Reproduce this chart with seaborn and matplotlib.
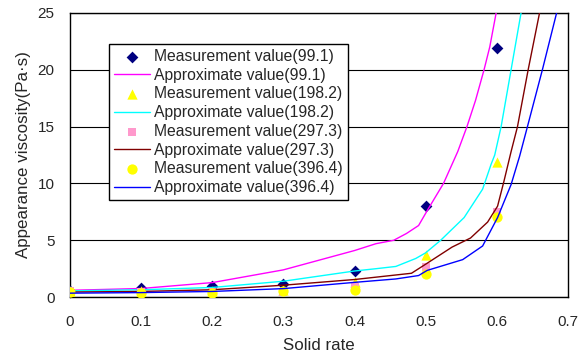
import pandas as pd
import seaborn as sns
import matplotlib.pyplot as plt

# measured points
solid = [0, 0.1, 0.2, 0.3, 0.4, 0.5, 0.6]
meas_991 = [0.5, 0.8, 0.95, 1.15, 2.3, 8.0, 21.9]
meas_1982 = [0.5, 0.5, 0.5, 0.6, 1.3, 3.7, 11.9]
meas_2973 = [0.5, 0.45, 0.45, 0.45, 0.85, 2.65, 7.5]
meas_3964 = [0.46, 0.4, 0.4, 0.5, 0.67, 2.07, 7.07]

# approximate curves
x_991 = [0, 0.1, 0.2, 0.3, 0.4, 0.43, 0.455, 0.473, 0.49, 0.502, 0.525, 0.545, 0.558, 0.57, 0.582, 0.59, 0.599]
y_991 = [0.6, 0.76, 1.28, 2.4, 4.1, 4.7, 5.0, 5.6, 6.3, 7.6, 10.0, 12.8, 15.0, 17.3, 20.0, 22.0, 25.0]
x_1982 = [0, 0.1, 0.2, 0.3, 0.4, 0.43, 0.458, 0.486, 0.5, 0.521, 0.554, 0.58, 0.592, 0.597, 0.606, 0.62, 0.634]
y_1982 = [0.55, 0.65, 0.85, 1.4, 2.3, 2.5, 2.7, 3.4, 3.9, 5.0, 7.0, 9.5, 11.7, 12.5, 15.0, 20.0, 25.0]
x_2973 = [0, 0.1, 0.2, 0.3, 0.4, 0.48, 0.5, 0.537, 0.563, 0.587, 0.601, 0.61, 0.62, 0.629, 0.644, 0.66]
y_2973 = [0.45, 0.5, 0.65, 1.05, 1.55, 2.1, 2.9, 4.4, 5.2, 6.6, 8.0, 10.2, 12.8, 15.0, 20.0, 25.0]
x_3964 = [0, 0.1, 0.2, 0.3, 0.4, 0.458, 0.49, 0.502, 0.552, 0.58, 0.601, 0.62, 0.632, 0.643, 0.664, 0.684]
y_3964 = [0.35, 0.4, 0.5, 0.75, 1.3, 1.6, 1.9, 2.35, 3.3, 4.5, 7.0, 9.9, 12.4, 15.0, 20.0, 25.0]

series = [
    ("99.1", meas_991, x_991, y_991, "#000080", "D", 36, "#FF00FF"),
    ("198.2", meas_1982, x_1982, y_1982, "#FFFF00", "^", 55, "#00FFFF"),
    ("297.3", meas_2973, x_2973, y_2973, "#FF99CC", "s", 40, "#800000"),
    ("396.4", meas_3964, x_3964, y_3964, "#FFFF00", "o", 55, "#0000FF"),
]

sns.set_style("white")
plt.rcParams['font.family'] = ['Liberation Sans', 'DejaVu Sans']

fig, ax = plt.subplots(figsize=(5.88, 3.58), dpi=100)
fig.subplots_adjust(left=0.119, right=0.966, bottom=0.17, top=0.964)

z = 3
for name, meas, cx, cy, mcol, mk, ms, lcol in series:
    pts = pd.DataFrame({"x": solid, "y": meas})
    sns.scatterplot(data=pts, x="x", y="y", ax=ax, color=mcol, marker=mk, s=ms,
                    linewidth=0, label="Measurement value(%s)" % name, zorder=z)
    crv = pd.DataFrame({"x": cx, "y": cy})
    sns.lineplot(data=crv, x="x", y="y", ax=ax, color=lcol, linewidth=1.0, sort=False,
                 estimator=None, label="Approximate value(%s)" % name, zorder=z + 1)
    z += 2

ax.set_xlim(0, 0.7)
ax.set_ylim(0, 25)
ax.set_xticks([0, 0.1, 0.2, 0.3, 0.4, 0.5, 0.6, 0.7])
ax.set_xticklabels(["0", "0.1", "0.2", "0.3", "0.4", "0.5", "0.6", "0.7"])
ax.set_yticks([0, 5, 10, 15, 20, 25])
ax.yaxis.grid(True, color="black", linewidth=0.8)
ax.set_axisbelow(True)
ax.tick_params(axis="x", direction="in", length=4, width=0.8, color="black", pad=13, labelsize=11)
ax.tick_params(axis="y", length=0, pad=11, labelsize=11)
for sp in ax.spines.values():
    sp.set_color("black")
    sp.set_linewidth(1.0)

ax.set_xlabel("Solid rate", fontsize=12.2, labelpad=6)
ax.set_ylabel("Appearance viscosity(Pa·s)", fontsize=12.2, labelpad=5)

leg = ax.legend(loc="upper left", bbox_to_anchor=(0.078, 0.89), fontsize=11.3,
                frameon=True, fancybox=False, framealpha=1, edgecolor="black",
                handlelength=2.3, handletextpad=0.3, labelspacing=0.24,
                borderpad=0.3, borderaxespad=0)
leg.get_frame().set_linewidth(1.0)

fig.savefig("out.png", dpi=100)
